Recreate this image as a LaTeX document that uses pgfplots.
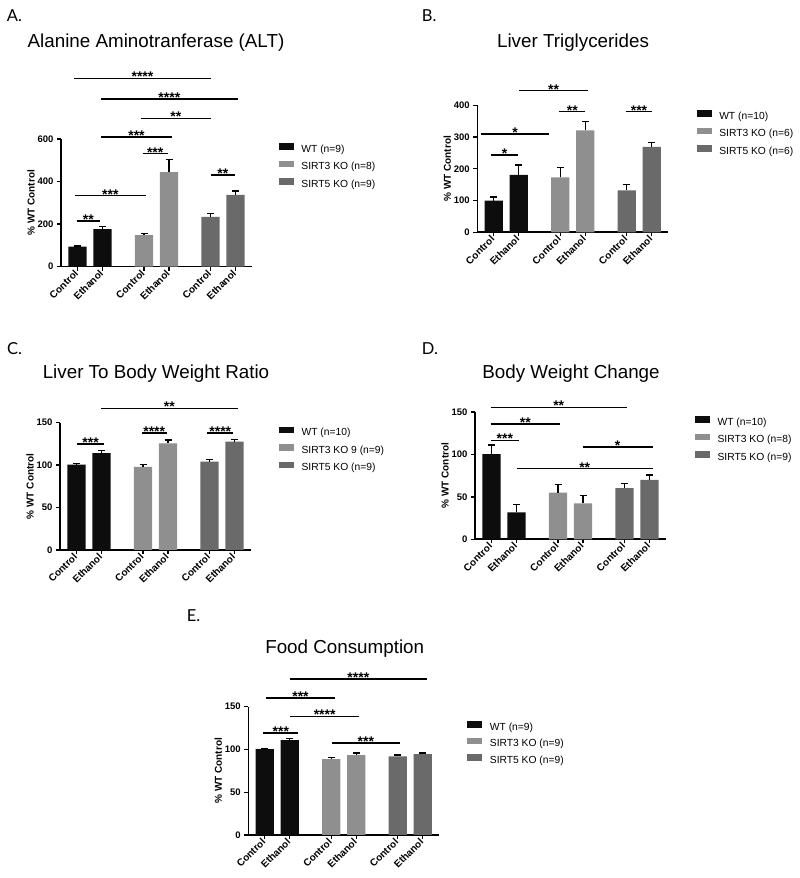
\documentclass[border=0pt]{standalone}
\usepackage{pgfplots}
\pgfplotsset{compat=1.18}
\usepackage{fontspec}
\setmainfont{Liberation Sans}
\newfontfamily\letterfont{Lato}
\definecolor{wt}{HTML}{0D0D0D}
\definecolor{sthree}{HTML}{8F8F8F}
\definecolor{sfive}{HTML}{6A6A6A}

\newcommand{\sig}[4]{\draw[line width=1.6pt] (axis cs:#1,#3) -- (axis cs:#2,#3) node[midway, anchor=base, yshift=-3.5pt, font=\bfseries\fontsize{14}{14}\selectfont, inner sep=0pt]{#4};}

\pgfplotsset{
  prism/.style={
    scale only axis, width=191pt,
    xmin=0, xmax=191, ymin=0,
    axis x line*=bottom, axis y line*=left,
    axis line style={line width=1.6pt, -},
    every tick/.style={line width=1.3pt, black},
    major tick length=4pt,
    tick align=outside,
    xtick={16.5,41.5,83,108,149.5,174.5},
    xticklabels={Control,Ethanol,Control,Ethanol,Control,Ethanol},
    x tick label style={rotate=45, anchor=east, font=\bfseries\fontsize{10}{10}\selectfont, inner sep=1.5pt},
    y tick label style={font=\bfseries\fontsize{9.5}{10}\selectfont},
    /pgf/number format/assume math mode=true,
    ylabel={\% WT Control},
    ylabel style={font=\bfseries\fontsize{10}{12}\selectfont, at={(axis description cs:-0.157,0.5)}, anchor=center},
    clip=false,
    legend cell align=left,
    legend image code/.code={\draw[##1,draw=none] (0pt,0pt) rectangle (15pt,6.5pt);},
    legend style={draw=none, fill=none, anchor=north west, inner sep=0pt, outer sep=0pt, row sep=6pt,
      font=\fontsize{10.3}{12}\selectfont,
      nodes={inner sep=0pt, text height=7.5pt, text depth=2.5pt},
      /tikz/every odd column/.style={column sep=7.5pt}},
  },
  prismbar/.style={ybar, bar width=18.3pt, bar shift=0pt, draw=none, fill=#1,
    error bars/y dir=plus, error bars/y explicit,
    error bars/error bar style={line width=1.3pt, draw=black},
    error bars/error mark options={rotate=90, mark size=3.5pt, line width=1.3pt, black}},
}

\begin{document}
\begin{tikzpicture}
\useasboundingbox (0,0) rectangle (800pt,878pt);

% ---------- Panel letters and titles ----------
\node[anchor=base west, inner sep=0pt, font=\letterfont\fontsize{16.5}{18}\selectfont] at (6.7pt,856.3pt) {A.};
\node[anchor=base west, inner sep=0pt, font=\letterfont\fontsize{16.5}{18}\selectfont] at (421.7pt,856.3pt) {B.};
\node[anchor=base west, inner sep=0pt, font=\letterfont\fontsize{16.5}{18}\selectfont] at (7pt,523pt) {C.};
\node[anchor=base west, inner sep=0pt, font=\letterfont\fontsize{16.5}{18}\selectfont] at (421.7pt,523pt) {D.};
\node[anchor=base west, inner sep=0pt, font=\letterfont\fontsize{16.5}{18}\selectfont] at (186.7pt,256.3pt) {E.};

\node[anchor=base, inner sep=0pt, font=\fontsize{18.8}{20}\selectfont] at (156pt,830.3pt) {Alanine Aminotranferase (ALT)};
\node[anchor=base, inner sep=0pt, font=\fontsize{18.8}{20}\selectfont] at (573pt,830.3pt) {Liver Triglycerides};
\node[anchor=base, inner sep=0pt, font=\fontsize{18.8}{20}\selectfont] at (156pt,499pt) {Liver To Body Weight Ratio};
\node[anchor=base, inner sep=0pt, font=\fontsize{18.8}{20}\selectfont] at (571pt,499.7pt) {Body Weight Change};
\node[anchor=base, inner sep=0pt, font=\fontsize{18.8}{20}\selectfont] at (344.7pt,224.7pt) {Food Consumption};

% ---------- A ----------
\begin{axis}[prism, at={(61pt,611.3pt)}, anchor=south west, height=127.7pt,
  ymax=600, ytick={0,200,400,600},
  legend style={at={(1.141,0.965)}}]
\addplot[prismbar=wt] coordinates {(16.5,94) +- (0,3) (41.5,176) +- (0,12)};
\addplot[prismbar=sthree] coordinates {(83,148) +- (0,9) (108,444) +- (0,61)};
\addplot[prismbar=sfive] coordinates {(149.5,234) +- (0,17) (174.5,337) +- (0,19)};
\legend{WT (n=9), SIRT3 KO (n=8), SIRT5 KO (n=9)}
\sig{13}{150}{885}{****}
\sig{40}{176.7}{788}{****}
\sig{79.7}{150}{697}{**}
\sig{40}{111}{608}{***}
\sig{81.7}{106.7}{531}{***}
\sig{150}{173.7}{432}{**}
\sig{14}{84.7}{334}{***}
\sig{15.7}{39}{216}{**}
\end{axis}

% ---------- B ----------
\begin{axis}[prism, at={(477.3pt,645.7pt)}, anchor=south west, height=127pt,
  ymax=400, ytick={0,100,200,300,400},
  legend style={at={(1.149,0.960)}}]
\addplot[prismbar=wt] coordinates {(16.5,100) +- (0,11) (41.5,181) +- (0,31)};
\addplot[prismbar=sthree] coordinates {(83,173) +- (0,30) (108,321) +- (0,27)};
\addplot[prismbar=sfive] coordinates {(149.5,132) +- (0,18) (174.5,269) +- (0,13)};
\legend{WT (n=10), SIRT3 KO (n=6), SIRT5 KO (n=6)}
\sig{42}{110.4}{446}{**}
\sig{82}{108}{380}{**}
\sig{148.4}{175}{380}{***}
\sig{4}{71.4}{309}{*}
\sig{13.7}{41}{243.5}{*}
\end{axis}

% ---------- C ----------
\begin{axis}[prism, at={(60pt,328pt)}, anchor=south west, height=127.3pt,
  ymax=150, ytick={0,50,100,150},
  legend style={at={(1.147,0.970)}}]
\addplot[prismbar=wt] coordinates {(16.5,100.5) +- (0,1.5) (41.5,114) +- (0,3)};
\addplot[prismbar=sthree] coordinates {(83,97.8) +- (0,2.7) (108,125.7) +- (0,3.9)};
\addplot[prismbar=sfive] coordinates {(149.5,104) +- (0,2.8) (174.5,127.6) +- (0,2.8)};
\legend{WT (n=10), SIRT3 KO 9 (n=9), SIRT5 KO (n=9)}
\sig{41}{177.7}{166.9}{**}
\sig{81.7}{106.7}{138.2}{****}
\sig{147.3}{173.3}{138.2}{****}
\sig{17.3}{44}{124.9}{***}
\end{axis}

% ---------- D ----------
\begin{axis}[prism, at={(475pt,338.7pt)}, anchor=south west, height=127.3pt,
  ymax=150, ytick={0,50,100,150},
  legend style={at={(1.152,0.967)}}]
\addplot[prismbar=wt] coordinates {(16.5,100.5) +- (0,10.5) (41.5,31.8) +- (0,9)};
\addplot[prismbar=sthree] coordinates {(83,54.9) +- (0,9.9) (108,42.4) +- (0,9)};
\addplot[prismbar=sfive] coordinates {(149.5,60.4) +- (0,5.6) (174.5,69.9) +- (0,5.9)};
\legend{WT (n=10), SIRT3 KO (n=8), SIRT5 KO (n=9)}
\sig{15.7}{151.7}{155.5}{**}
\sig{15.7}{85}{135.8}{**}
\sig{15.7}{44}{116.6}{***}
\sig{107.7}{177.7}{109.1}{*}
\sig{41.7}{177.7}{83.2}{**}
\end{axis}

% ---------- E ----------
\begin{axis}[prism, at={(248.3pt,43pt)}, anchor=south west, height=128.3pt,
  ymax=150, ytick={0,50,100,150},
  legend style={at={(1.147,0.885)}, row sep=5pt}]
\addplot[prismbar=wt] coordinates {(16.5,100.5) +- (0,1) (41.5,111) +- (0,1.5)};
\addplot[prismbar=sthree] coordinates {(83,88.7) +- (0,1.5) (108,93.4) +- (0,2.6)};
\addplot[prismbar=sfive] coordinates {(149.5,91.8) +- (0,1.6) (174.5,94.5) +- (0,1.5)};
\legend{WT (n=9), SIRT3 KO (n=9), SIRT5 KO (n=9)}
\sig{41.7}{178.4}{182.4}{****}
\sig{17.7}{86.7}{160.2}{***}
\sig{41.7}{111}{138.7}{****}
\sig{15}{50}{119.1}{***}
\sig{83.4}{151.7}{107.4}{***}
\end{axis}
\end{tikzpicture}
\end{document}
